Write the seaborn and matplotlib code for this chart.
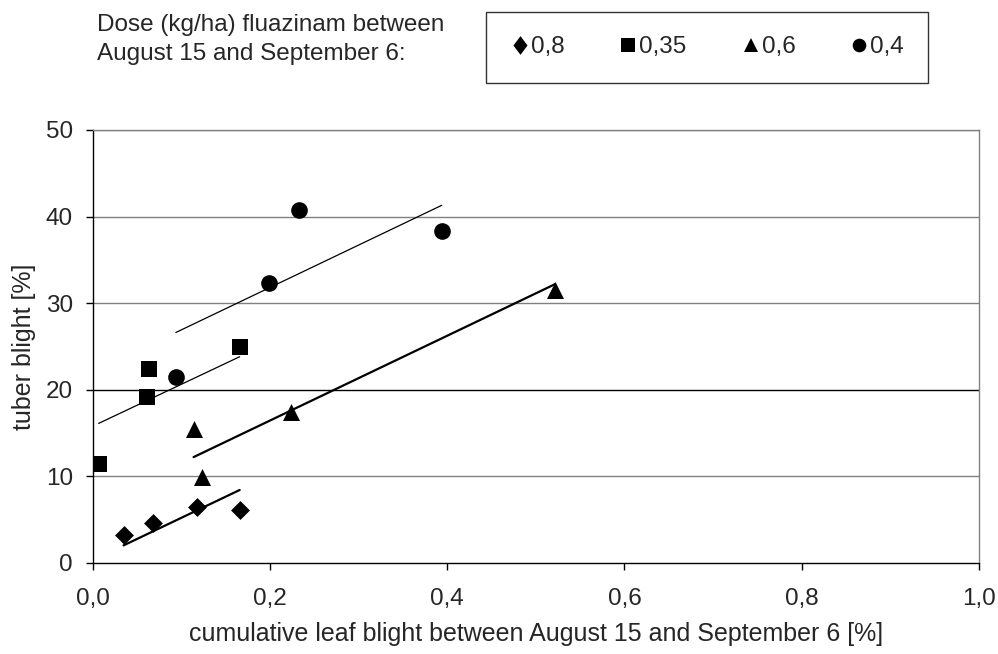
import matplotlib
matplotlib.use("Agg")
import matplotlib.pyplot as plt
from matplotlib.lines import Line2D
import seaborn as sns
import pandas as pd

# ---- data ----
doses = ["0,8", "0,35", "0,6", "0,4"]

x_08 = [0.035, 0.068, 0.118, 0.166]
y_08 = [3.2, 4.6, 6.4, 6.1]
x_035 = [0.007, 0.062, 0.064, 0.166]
y_035 = [11.4, 19.2, 22.4, 24.9]
x_06 = [0.114, 0.124, 0.224, 0.522]
y_06 = [15.5, 9.9, 17.4, 31.5]
x_04 = [0.094, 0.199, 0.233, 0.394]
y_04 = [21.5, 32.3, 40.8, 38.3]

# fitted trend lines (endpoints)
fx_08 = [0.035, 0.166]
fy_08 = [2.0, 8.4]
fx_035 = [0.007, 0.166]
fy_035 = [16.1, 23.8]
fx_06 = [0.114, 0.522]
fy_06 = [12.2, 32.2]
fx_04 = [0.094, 0.394]
fy_04 = [26.6, 41.3]

x_ticks = [0.0, 0.2, 0.4, 0.6, 0.8, 1.0]
x_ticklabels = ["0,0", "0,2", "0,4", "0,6", "0,8", "1,0"]
y_ticks = [0, 10, 20, 30, 40, 50]

sns.set_theme(style="white")
plt.rcParams["font.family"] = ["Liberation Sans", "DejaVu Sans"]
FS = 17.5
FS_LAB = 18

diamond = [(0, 1), (1, 0), (0, -1), (-1, 0), (0, 1)]
thin_diamond = [(0, 1), (0.75, 0), (0, -1), (-0.75, 0), (0, 1)]
markers = [diamond, "s", "^", "o"]

pts = pd.DataFrame({
    "x": x_08 + x_035 + x_06 + x_04,
    "y": y_08 + y_035 + y_06 + y_04,
    "dose": [doses[0]] * 4 + [doses[1]] * 4 + [doses[2]] * 4 + [doses[3]] * 4,
})
fits = [(fx_08, fy_08, 1.6), (fx_035, fy_035, 0.9), (fx_06, fy_06, 1.6), (fx_04, fy_04, 0.9)]

fig = plt.figure(figsize=(9.98, 6.54), dpi=100)
ax = fig.add_axes([92.5 / 998, 1 - 562.7 / 654, (979 - 92.5) / 998, (562.7 - 130) / 654])

# gridlines
for yv in y_ticks[1:]:
    ax.axhline(yv, color="black" if yv == 20 else "#808080", lw=1.0, zorder=0)

sizes = [185, 144, 150, 144]
for d, m, sz in zip(doses, markers, sizes):
    sub = pts[pts["dose"] == d]
    sns.scatterplot(data=sub, x="x", y="y", marker=m, s=sz, color="black",
                    edgecolor="black", linewidth=0, ax=ax, zorder=3, legend=False)

for fx, fy, lw in fits:
    sns.lineplot(x=fx, y=fy, color="black", lw=lw, ax=ax, estimator=None, zorder=2)

ax.set_xlim(0, 1.0)
ax.set_ylim(0, 50)
ax.set_xticks(x_ticks)
ax.set_xticklabels(x_ticklabels)
ax.set_yticks(y_ticks)
ax.tick_params(axis="both", which="major", direction="out", length=5, width=1,
               color="black", labelsize=FS, left=True, bottom=True)
ax.tick_params(axis="x", pad=13)
ax.tick_params(axis="y", pad=9)

for s in ["left", "bottom"]:
    ax.spines[s].set_color("black")
    ax.spines[s].set_linewidth(1)
for s in ["top", "right"]:
    ax.spines[s].set_color("#808080")
    ax.spines[s].set_linewidth(1)

ax.set_xlabel("cumulative leaf blight between August 15 and September 6 [%]", fontsize=FS_LAB, labelpad=9)
ax.set_ylabel("tuber blight [%]", fontsize=FS_LAB, labelpad=7)

fig.text(97 / 998, 1 - 25 / 654, "Dose (kg/ha) fluazinam between", fontsize=FS, va="center", ha="left")
fig.text(97 / 998, 1 - 54 / 654, "August 15 and September 6:", fontsize=FS, va="center", ha="left")

leg_markers = [thin_diamond, "s", "^", "o"]
leg_ms = [13.5, 9.5, 10.5, 9.8]
handles = [Line2D([], [], ls="none", marker=m, color="black", markersize=ms,
                  markeredgewidth=0) for m, ms in zip(leg_markers, leg_ms)]
leg = fig.legend(handles, doses, loc="center", ncol=4, mode="expand",
                 bbox_to_anchor=(485.7 / 998, 1 - 82.7 / 654, 442.6 / 998, 71 / 654),
                 fontsize=FS, frameon=True, fancybox=False, handlelength=0.8,
                 handletextpad=0.05, borderpad=1.0, borderaxespad=0, columnspacing=1.0)
leg.get_frame().set_edgecolor("black")
leg.get_frame().set_linewidth(1)

fig.savefig("out.png", dpi=100)
